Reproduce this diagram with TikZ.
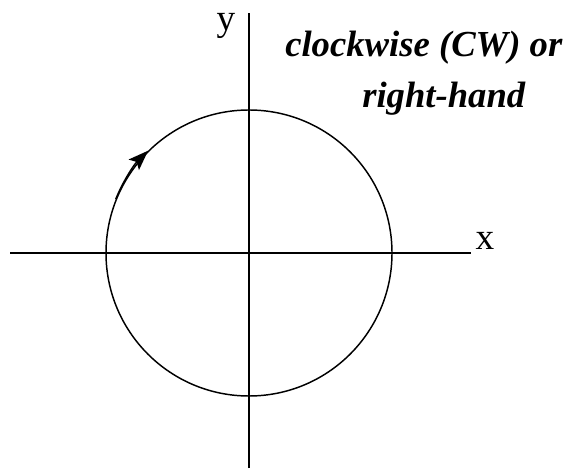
\documentclass[tikz,border=0pt]{standalone}
\usepackage{fontspec}
\setmainfont{Liberation Serif}
\usetikzlibrary{arrows.meta}
\tikzset{
  axisline/.style={black,line width=1.1pt},
  axislabel/.style={anchor=base,inner sep=0pt,font=\fontsize{28}{32}\selectfont},
  notelabel/.style={anchor=base west,inner sep=0pt,font=\fontsize{27.5}{32}\selectfont\bfseries\itshape}
}
\begin{document}
\begin{tikzpicture}[x=0.75pt,y=0.75pt]
  \useasboundingbox (0,0) rectangle (574,475);
  % axes
  \coordinate (O) at (249,222);
  \coordinate (xl) at (10,222);
  \coordinate (xr) at (471,222);
  \coordinate (yb) at (249,7);
  \coordinate (yt) at (249,462);
  \draw[axisline] (xl) -- (xr);
  \draw[axisline] (yb) -- (yt);
  % circle
  \node[draw,circle,line width=1.1pt,inner sep=0pt,minimum size=214.5pt] (ring) at (O) {};
  \draw[line width=1.1pt,-{Stealth[length=15pt,width=11pt,inset=3pt]}] (ring.158) arc[start angle=158,end angle=134.5,radius=107.25pt];
  % labels
  \node[axislabel] (ylab) at (226,444) {y};
  \node[axislabel] (xlab) at (485,225) {x};
  \node[notelabel] (note1) at (285,418) {clockwise (CW) or};
  \node[notelabel] (note2) at (362,367) {right-hand};
\end{tikzpicture}
\end{document}
